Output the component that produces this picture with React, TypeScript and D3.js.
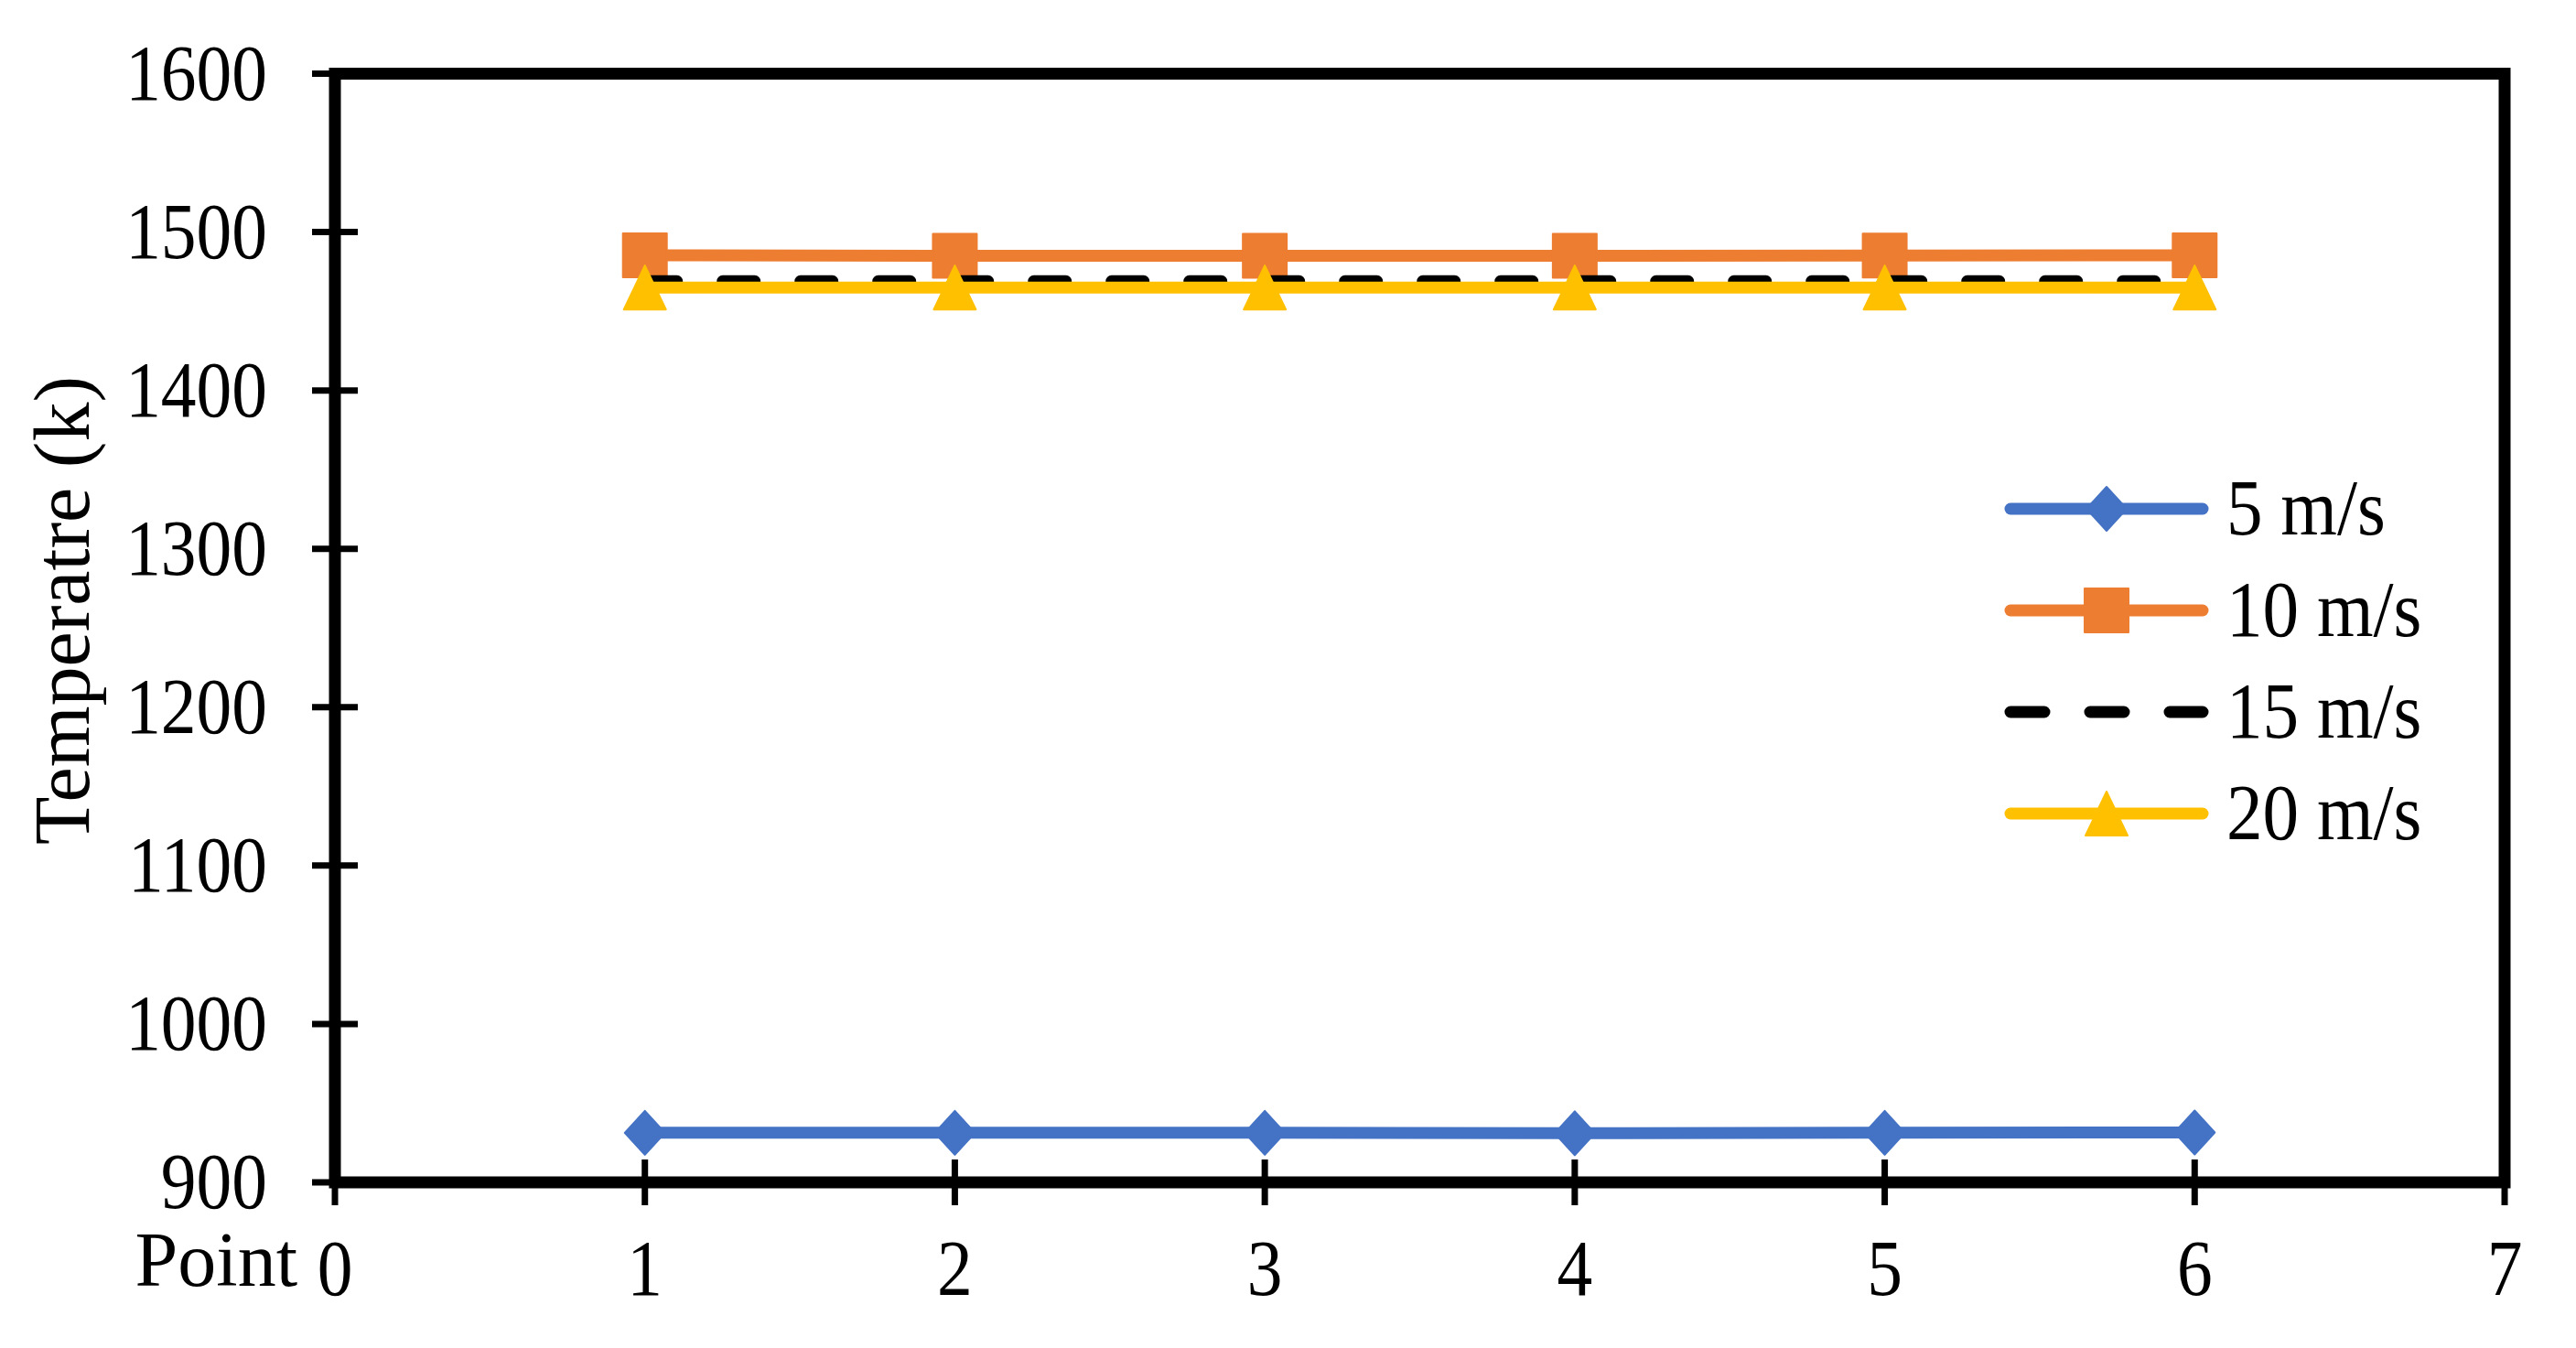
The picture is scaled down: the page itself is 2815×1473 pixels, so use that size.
import React, { useEffect, useRef } from "react";
import * as d3 from "d3";

// data
const points = [1, 2, 3, 4, 5, 6];
const v5 = [931.3, 931.3, 931.3, 931, 931.3, 931.5];
const v10 = [1485.3, 1485, 1485, 1485, 1485.2, 1485.3];
const v15 = [1469, 1469, 1469, 1469, 1469, 1469];
const v20 = [1465, 1465, 1465, 1465, 1465, 1465];
const seriesNames = ["5 m/s", "10 m/s", "15 m/s", "20 m/s"];
const xTicks = [0, 1, 2, 3, 4, 5, 6, 7];
const yTicks = [900, 1000, 1100, 1200, 1300, 1400, 1500, 1600];

const W = 2815;
const H = 1473;
const FONT = "'Liberation Serif', 'Times New Roman', serif";

type Mk = "diamond" | "square" | "triangle" | "none";

const App = () => {
  const svgRef = useRef<SVGSVGElement>(null);

  useEffect(() => {
    const svg = d3.select(svgRef.current);
    svg.selectAll("*").remove();

    const left = 366, right = 2737, top = 80.5, bottom = 1292;
    const x = d3.scaleLinear().domain([0, 7]).range([left, right]);
    const y = d3.scaleLinear().domain([900, 1600]).range([bottom, top]);

    const series = [
      { name: seriesNames[0], vals: v5, color: "#4472C4", marker: "diamond" as Mk, dash: null },
      { name: seriesNames[1], vals: v10, color: "#ED7D31", marker: "square" as Mk, dash: null },
      { name: seriesNames[2], vals: v15, color: "#000000", marker: "none" as Mk, dash: "35 50" },
      { name: seriesNames[3], vals: v20, color: "#FFC000", marker: "triangle" as Mk, dash: null },
    ];

    const markerPath = (m: Mk) => {
      if (m === "diamond") return "M0,-24 L22,0 L0,24 L-22,0 Z";
      if (m === "square") return "M-24,-24 L24,-24 L24,24 L-24,24 Z";
      if (m === "triangle") return "M0,-24 L23,24 L-23,24 Z";
      return "";
    };

    const line = d3
      .line<number>()
      .x((_, i) => x(points[i]))
      .y((d) => y(d));

    // lines + markers, series after series
    series.forEach((s) => {
      const p = svg
        .append("path")
        .attr("d", line(s.vals))
        .attr("fill", "none")
        .attr("stroke", s.color)
        .attr("stroke-width", 13)
        .attr("stroke-linejoin", "round")
        .attr("stroke-linecap", "round");
      if (s.dash) p.attr("stroke-dasharray", s.dash);
      if (s.marker !== "none") {
        svg
          .append("g")
          .selectAll("path")
          .data(s.vals)
          .join("path")
          .attr("d", markerPath(s.marker))
          .attr("transform", (d, i) => `translate(${x(points[i])},${y(d)})`)
          .attr("fill", s.color)
          .attr("stroke", s.color)
          .attr("stroke-width", 2)
          .attr("stroke-linejoin", "round");
      }
    });

    // frame
    svg
      .append("rect")
      .attr("x", left)
      .attr("y", top)
      .attr("width", right - left)
      .attr("height", bottom - top)
      .attr("fill", "none")
      .attr("stroke", "#000")
      .attr("stroke-width", 13);

    // y ticks, crossing the axis
    svg
      .append("g")
      .selectAll("line")
      .data(yTicks)
      .join("line")
      .attr("x1", left - 25)
      .attr("x2", left + 25)
      .attr("y1", (d) => y(d))
      .attr("y2", (d) => y(d))
      .attr("stroke", "#000")
      .attr("stroke-width", 7);

    svg
      .append("g")
      .selectAll("text")
      .data(yTicks)
      .join("text")
      .attr("transform", (d) => `translate(292,${y(d) + 28}) scale(0.89,1)`)
      .attr("text-anchor", "end")
      .attr("font-family", FONT)
      .attr("font-size", 87)
      .text((d) => d);

    // x ticks
    svg
      .append("g")
      .selectAll("line")
      .data(xTicks)
      .join("line")
      .attr("x1", (d) => x(d))
      .attr("x2", (d) => x(d))
      .attr("y1", bottom - 25)
      .attr("y2", bottom + 25)
      .attr("stroke", "#000")
      .attr("stroke-width", 7);

    svg
      .append("g")
      .selectAll("text")
      .data(xTicks)
      .join("text")
      .attr("transform", (d) => `translate(${x(d)},1415) scale(0.89,1)`)
      .attr("text-anchor", "middle")
      .attr("font-family", FONT)
      .attr("font-size", 87)
      .text((d) => d);

    svg
      .append("text")
      .attr("x", 325)
      .attr("y", 1405)
      .attr("text-anchor", "end")
      .attr("font-family", FONT)
      .attr("font-size", 84)
      .text("Point");

    // y title
    svg
      .append("text")
      .attr("transform", `translate(97,667) rotate(-90)`)
      .attr("text-anchor", "middle")
      .attr("font-family", FONT)
      .attr("font-size", 86)
      .text("Temperatre (k)");

    // legend
    const lx0 = 2191, lx1 = 2413, ly0 = 556, lstep = 111;
    series.forEach((s, i) => {
      const ly = ly0 + i * lstep;
      const p = svg
        .append("line")
        .attr("x1", lx0 + 6)
        .attr("x2", lx1 - 6)
        .attr("y1", ly)
        .attr("y2", ly)
        .attr("stroke", s.color)
        .attr("stroke-width", 13)
        .attr("stroke-linecap", "round");
      if (s.dash) p.attr("stroke-dasharray", "37 50");
      if (s.marker !== "none") {
        svg
          .append("path")
          .attr("d", markerPath(s.marker))
          .attr("transform", `translate(${(lx0 + lx1) / 2},${ly})`)
          .attr("fill", s.color)
          .attr("stroke", s.color)
          .attr("stroke-width", 2)
          .attr("stroke-linejoin", "round");
      }
      svg
        .append("text")
        .attr("transform", `translate(2433,${ly + 28}) scale(0.91,1)`)
        .attr("font-family", FONT)
        .attr("font-size", 87)
        .text(s.name);
    });
  }, []);

  return (
    <div style={{ position: "absolute", left: 0, top: 0, width: W, height: H, background: "#fff" }}>
      <svg ref={svgRef} width={W} height={H} style={{ display: "block" }}></svg>
    </div>
  );
};

export default App;
